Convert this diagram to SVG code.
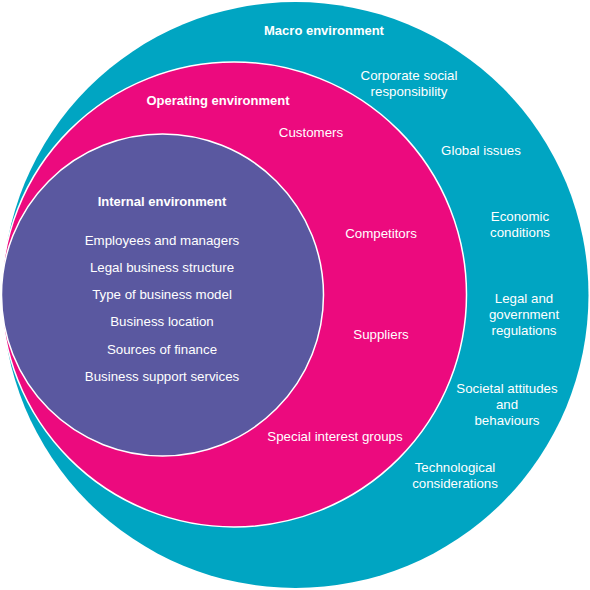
<svg xmlns="http://www.w3.org/2000/svg" width="590" height="590" viewBox="0 0 590 590">
<style>
text{font-family:"Liberation Sans",Arial,sans-serif;fill:#fff;text-anchor:middle;font-size:13.3px}
.t{font-weight:bold;font-size:13px}
.ring{stroke:#fff;stroke-width:1.5}
</style>
<rect width="590" height="590" fill="#fff"/>
<g id="macro">
<circle cx="295.5" cy="295" r="293" fill="#00A5C2"/>
<text class="t" x="324" y="35">Macro environment</text>
<text x="409" y="80">Corporate social</text>
<text x="409" y="96">responsibility</text>
<text x="481" y="155">Global issues</text>
<text x="520" y="221">Economic</text>
<text x="520" y="237">conditions</text>
<text x="524" y="303">Legal and</text>
<text x="524" y="319">government</text>
<text x="524" y="335">regulations</text>
<text x="507" y="393">Societal attitudes</text>
<text x="507" y="409">and</text>
<text x="507" y="425">behaviours</text>
<text x="455" y="472">Technological</text>
<text x="455" y="488">considerations</text>
</g>
<g id="operating">
<circle class="ring" cx="234" cy="294.5" r="232.5" fill="#EC0A7E"/>
<text class="t" x="218" y="105">Operating environment</text>
<text x="311" y="137">Customers</text>
<text x="381" y="238">Competitors</text>
<text x="381" y="339">Suppliers</text>
<text x="335" y="441">Special interest groups</text>
</g>
<g id="internal">
<circle class="ring" cx="162.5" cy="295" r="161" fill="#5A58A0"/>
<text class="t" x="162" y="206">Internal environment</text>
<text x="162" y="245">Employees and managers</text>
<text x="162" y="272">Legal business structure</text>
<text x="162" y="299">Type of business model</text>
<text x="162" y="326">Business location</text>
<text x="162" y="354">Sources of finance</text>
<text x="162" y="381">Business support services</text>
</g>
<g id="connectors"></g>
</svg>
